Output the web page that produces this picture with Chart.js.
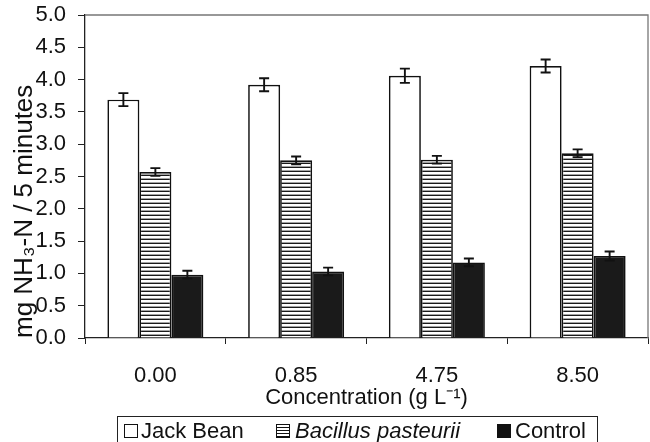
<!DOCTYPE html>
<html>
<head>
<meta charset="utf-8">
<script src="https://cdn.jsdelivr.net/npm/chart.js@4/dist/chart.umd.min.js"></script>
<style>
  html, body { margin: 0; padding: 0; background: #fff; }
  #wrap { position: relative; width: 650px; height: 442px; overflow: hidden; }
  #legend {
    position: absolute; left: 117px; top: 416px; width: 481px; height: 27px;
    border: 1.3px solid #222; box-sizing: border-box;
    font-family: "Liberation Sans", Arial, sans-serif; font-size: 22px; color: #111;
    line-height: 1;
  }
  .sw { position: absolute; top: 7px; width: 14px; height: 14px; box-sizing: border-box; border: 1.4px solid #111; }
  .txt { position: absolute; top: 3px; white-space: nowrap; }
  .sw.white { background: #fff; }
  .sw.stripe { background: repeating-linear-gradient(to bottom, #fff 0px, #fff 1.6px, #111 1.6px, #111 3px); }
  .sw.black { background: #111; }
</style>
</head>
<body>
<div id="wrap">
  <canvas id="c" width="650" height="442"></canvas>
  <div id="legend">
    <span class="sw white" style="left:6px"></span><span class="txt" style="left:23px">Jack Bean</span>
    <span class="sw stripe" style="left:158px"></span><span class="txt" style="left:177px"><i>Bacillus pasteurii</i></span>
    <span class="sw black" style="left:379px"></span><span class="txt" style="left:397px">Control</span>
  </div>
</div>
<script>
// ---- data ----
const categories = ["0.00", "0.85", "4.75", "8.50"];
const seriesNames = ["Jack Bean", "Bacillus pasteurii", "Control"];
const jackBean = [3.69, 3.92, 4.06, 4.21];
const jackBeanErr = [0.10, 0.10, 0.11, 0.10];
const bacillus = [2.57, 2.75, 2.76, 2.86];
const bacillusErr = [0.06, 0.06, 0.06, 0.06];
const control = [0.98, 1.03, 1.17, 1.27];
const controlErr = [0.06, 0.06, 0.06, 0.07];
const yTicks = [0, 0.5, 1, 1.5, 2, 2.5, 3, 3.5, 4, 4.5, 5];

// ---- stripe pattern ----
function stripePattern() {
  const p = document.createElement('canvas');
  p.width = 8; p.height = 4;
  const g = p.getContext('2d');
  g.fillStyle = '#fff'; g.fillRect(0, 0, 8, 4);
  g.fillStyle = '#1a1a1a'; g.fillRect(0, 2.6, 8, 1.4);
  return document.getElementById('c').getContext('2d').createPattern(p, 'repeat');
}

const errors = [jackBeanErr, bacillusErr, controlErr];

const errorBarPlugin = {
  id: 'errorBars',
  afterDatasetsDraw(chart) {
    const ctx = chart.ctx;
    const y = chart.scales.y;
    ctx.save();
    ctx.strokeStyle = '#111';
    ctx.lineWidth = 1.9;
    chart.data.datasets.forEach((ds, i) => {
      const meta = chart.getDatasetMeta(i);
      meta.data.forEach((bar, j) => {
        const v = ds.data[j], e = errors[i][j];
        const yt = y.getPixelForValue(v + e), yb = y.getPixelForValue(v - e);
        const x = bar.x, hw = 5;
        ctx.beginPath();
        ctx.moveTo(x, yt); ctx.lineTo(x, yb);
        ctx.moveTo(x - hw, yt); ctx.lineTo(x + hw, yt);
        ctx.moveTo(x - hw, yb); ctx.lineTo(x + hw, yb);
        ctx.stroke();
      });
    });
    ctx.restore();
  }
};

const framePlugin = {
  id: 'frame',
  afterDraw(chart) {
    const a = chart.chartArea, ctx = chart.ctx;
    ctx.save();
    ctx.strokeStyle = '#777';
    ctx.lineWidth = 1.3;
    ctx.beginPath();
    ctx.moveTo(a.left, a.top); ctx.lineTo(a.right, a.top); ctx.lineTo(a.right, a.bottom);
    ctx.stroke();
    ctx.restore();
  }
};

const FONT = "'Liberation Sans', Arial, sans-serif";
Chart.defaults.font.family = FONT;
Chart.defaults.color = '#111';

new Chart(document.getElementById('c'), {
  type: 'bar',
  data: {
    labels: categories,
    datasets: [
      { label: seriesNames[0], data: jackBean, backgroundColor: '#fff', borderColor: '#111', borderWidth: 1.7 },
      { label: seriesNames[1], data: bacillus, backgroundColor: stripePattern(), borderColor: '#111', borderWidth: 1.7 },
      { label: seriesNames[2], data: control, backgroundColor: '#1a1a1a', borderColor: '#111', borderWidth: 1.7 }
    ]
  },
  options: {
    responsive: false,
    animation: false,
    devicePixelRatio: 1,
    layout: { padding: { top: 15, right: 2, bottom: 0, left: 0 } },
    datasets: { bar: { categoryPercentage: 0.682, barPercentage: 1.0 } },
    plugins: { legend: { display: false }, tooltip: { enabled: false } },
    scales: {
      x: {
        afterFit(scale) { scale.height = 104; scale.paddingLeft = 0; scale.paddingRight = 0; },
        grid: { display: true, drawOnChartArea: false, drawTicks: true, tickLength: 6, offset: true, color: '#222', lineWidth: 1 },
        border: { display: true, color: '#222', width: 1.3 },
        ticks: { font: { size: 22 }, padding: 19, color: '#111' },
        title: { display: true, text: 'Concentration (g L⁻¹)', font: { size: 22 }, padding: { top: 0, bottom: 31 }, color: '#111' }
      },
      y: {
        min: 0, max: 5,
        afterFit(scale) { scale.width = 85; scale.paddingTop = 0; scale.paddingBottom = 0; },
        afterBuildTicks(scale) { scale.ticks = yTicks.map(v => ({ value: v })); },
        grid: { display: true, drawOnChartArea: false, drawTicks: true, tickLength: 7, color: '#222' },
        border: { display: true, color: '#222', width: 1.3 },
        ticks: { font: { size: 22 }, padding: 12, color: '#111', callback: v => Number(v).toFixed(1) },
        title: { display: true, text: 'mg NH₃-N / 5 minutes', align: 'start', font: { size: 26 }, padding: { top: 9, bottom: 0 }, color: '#111' }
      }
    }
  },
  plugins: [errorBarPlugin, framePlugin]
});
</script>
</body>
</html>
